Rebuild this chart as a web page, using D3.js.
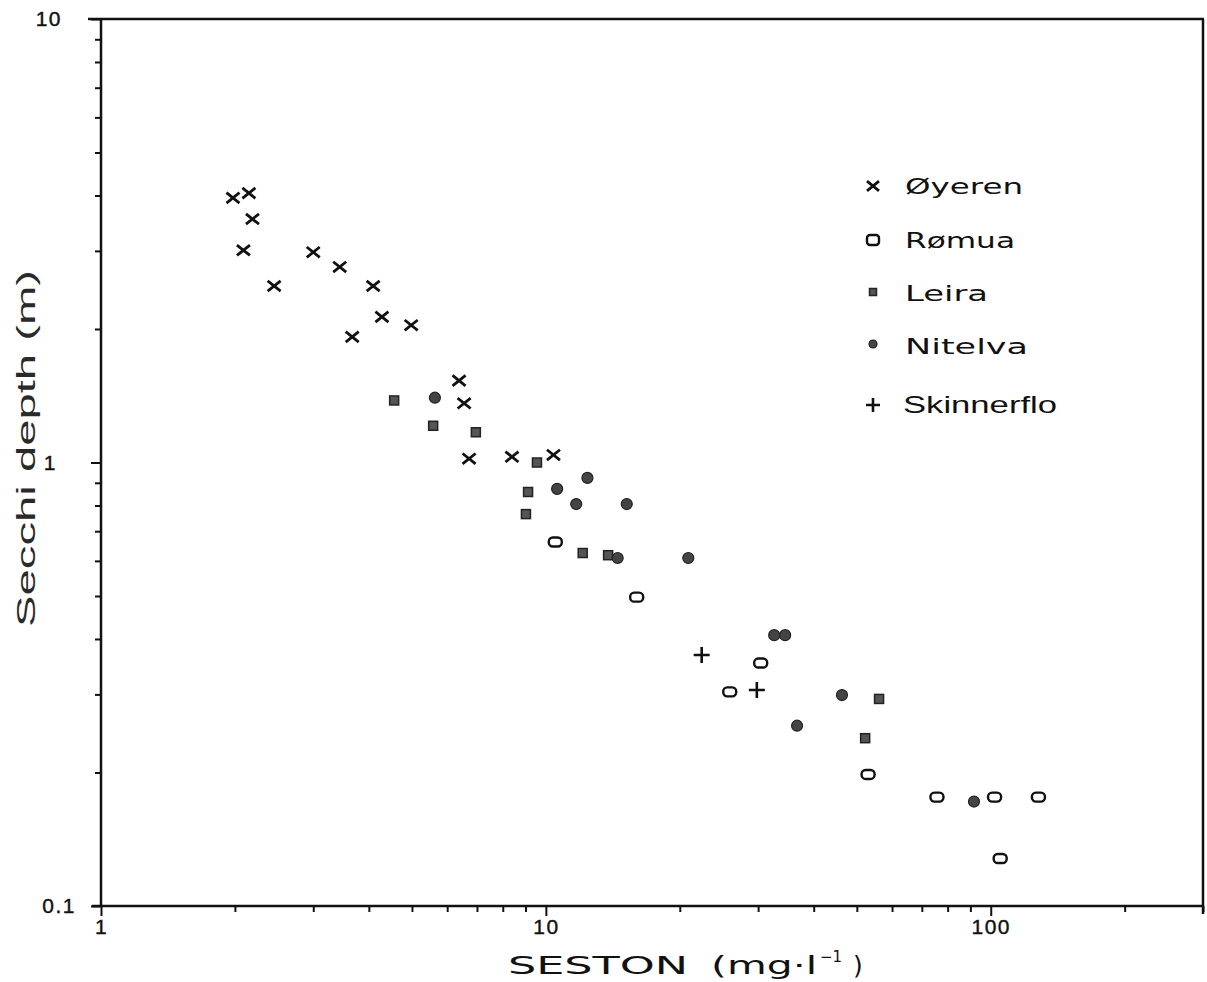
<!DOCTYPE html>
<html>
<head>
<meta charset="utf-8">
<script src="https://cdn.jsdelivr.net/npm/d3@7"></script>
<style>
  html, body { margin: 0; padding: 0; background: #fff; }
  svg { display: block; }
</style>
</head>
<body>
<svg id="chart" width="1207" height="982"></svg>
<script>
// ---------- DATA ----------
const seriesNames = ["Øyeren", "Rømua", "Leira", "Nitelva", "Skinnerflo"];

const oyerenSeston = [1.98, 2.15, 2.19, 2.09, 2.45, 3.00, 3.44, 4.09, 4.28, 4.98, 3.67, 6.38, 6.55, 6.72, 8.39, 10.4];
const oyerenSecchi = [3.95, 4.05, 3.54, 3.01, 2.50, 2.98, 2.76, 2.50, 2.13, 2.04, 1.92, 1.53, 1.36, 1.02, 1.03, 1.04];

const romuaSeston = [10.5, 16.0, 30.4, 25.9, 53.0, 75.7, 102, 128, 105];
const romuaSecchi = [0.662, 0.497, 0.353, 0.304, 0.198, 0.176, 0.176, 0.176, 0.128];

const leiraSeston = [4.56, 5.58, 6.96, 9.55, 9.12, 9.02, 12.1, 13.8, 56.1, 52.2];
const leiraSecchi = [1.38, 1.21, 1.17, 1.00, 0.858, 0.765, 0.625, 0.618, 0.293, 0.239];

const nitelvaSeston = [5.63, 12.4, 10.6, 11.7, 15.2, 14.5, 20.9, 32.6, 34.5, 46.3, 36.7, 91.7];
const nitelvaSecchi = [1.40, 0.923, 0.872, 0.806, 0.806, 0.609, 0.609, 0.408, 0.408, 0.299, 0.255, 0.172];

const skinnerfloSeston = [22.4, 29.8];
const skinnerfloSecchi = [0.368, 0.307];

const xTickValues = [1,2,3,4,5,6,7,8,9,10,20,30,40,50,60,70,80,90,100,200,300];
const xTickLabels = ["1", "10", "100"];
const yTickValues = [0.1,0.2,0.3,0.4,0.5,0.6,0.7,0.8,0.9,1,2,3,4,5,6,7,8,9,10];
const yTickLabels = ["0.1", "1", "10"];

const xTitle = "SESTON";
const yTitle = "Secchi depth (m)";

// ---------- CHART ----------
const svg = d3.select("#chart");
const x = d3.scaleLog().domain([1, 300]).range([101, 1203]);
const y = d3.scaleLog().domain([0.1, 10]).range([906, 19]);

const tickFont = "'Liberation Sans', Arial, sans-serif";
const isMajor = v => [1, 10, 100, 0.1].some(m => Math.abs(v - m) < 1e-9);

// X axis
const xAxis = d3.axisBottom(x)
  .tickValues(xTickValues)
  .tickSizeOuter(0)
  .tickSize(6)
  .tickPadding(8)
  .tickFormat(d => xTickLabels.includes(String(d)) ? String(d) : "");
const gx = svg.append("g").attr("transform", "translate(0,906)").call(xAxis);
gx.attr("font-size", null).attr("font-family", null);
gx.select(".domain").attr("stroke", "#111").attr("stroke-width", 2.5)
  .attr("d", "M92,0H1204");
gx.selectAll(".tick line").attr("stroke", "#111").attr("stroke-width", 2)
  .attr("y2", d => isMajor(d) ? 10 : 6);
gx.selectAll(".tick text")
  .style("font-family", tickFont).style("font-size", "21px").attr("fill", "#111")
  .attr("stroke", "#111").attr("stroke-width", 0.4)
  .style("letter-spacing", "1.5px").attr("dx", 0).attr("dy", "0.68em");

// Y axis
const yAxis = d3.axisLeft(y)
  .tickValues(yTickValues)
  .tickSizeOuter(0)
  .tickSize(6)
  .tickPadding(22)
  .tickFormat(d => {
    const s = d < 1 ? d3.format(".1f")(d) : String(d);
    return yTickLabels.includes(s) ? s : "";
  });
const gy = svg.append("g").attr("transform", "translate(101,0)").call(yAxis);
gy.attr("font-size", null).attr("font-family", null);
gy.select(".domain").attr("stroke", "#111").attr("stroke-width", 2.5)
  .attr("d", "M0,906V19");
gy.selectAll(".tick line").attr("stroke", "#111").attr("stroke-width", 2)
  .attr("x2", d => isMajor(d) ? -10 : -6);
gy.selectAll(".tick text")
  .style("font-family", tickFont).style("font-size", "21px").attr("fill", "#111")
  .attr("stroke", "#111").attr("stroke-width", 0.4)
  .style("letter-spacing", "1.5px")
  .attr("dx", d => d === 10 ? -11 : (d === 1 ? -16 : 3));

// Frame: top and right
svg.append("line").attr("x1", 88).attr("x2", 1204).attr("y1", y(10)).attr("y2", y(10))
  .attr("stroke", "#111").attr("stroke-width", 2.5);
svg.append("line").attr("x1", x(300)).attr("x2", x(300)).attr("y1", y(10)).attr("y2", y(0.1) + 8)
  .attr("stroke", "#111").attr("stroke-width", 2.5);

// Axis titles
const titleFont = "'DejaVu Sans', sans-serif";
svg.append("text")
  .attr("x", 508).attr("y", 974)
  .style("font-family", titleFont).style("font-size", "25px")
  .attr("fill", "#111")
  .attr("textLength", 180).attr("lengthAdjust", "spacingAndGlyphs")
  .text(xTitle);
svg.append("text")
  .attr("x", 711).attr("y", 974)
  .style("font-family", titleFont).style("font-size", "25px")
  .attr("fill", "#111")
  .attr("textLength", 106).attr("lengthAdjust", "spacingAndGlyphs")
  .text("(mg·l");
svg.append("text")
  .attr("x", 820).attr("y", 962)
  .style("font-family", titleFont).style("font-size", "15px")
  .attr("fill", "#111")
  .text("−1");
svg.append("text")
  .attr("x", 853).attr("y", 974)
  .style("font-family", titleFont).style("font-size", "25px")
  .attr("fill", "#111")
  .text(")");

svg.append("text")
  .attr("transform", "translate(35,627) rotate(-90)")
  .attr("x", 0).attr("y", 0)
  .style("font-family", "'Liberation Sans', Arial, sans-serif").style("font-size", "26px")
  .attr("fill", "#2a2a2a")
  .attr("textLength", 357).attr("lengthAdjust", "spacingAndGlyphs")
  .text(yTitle);

// ---------- MARKERS ----------
const pts = (xs, ys) => xs.map((v, i) => ({ x: v, y: ys[i] }));
const plot = svg.append("g");

function drawCross(g, cx, cy, s) {
  g.append("path")
    .attr("d", `M${cx - s},${cy - s * 0.8}L${cx + s},${cy + s * 0.8}M${cx - s},${cy + s * 0.8}L${cx + s},${cy - s * 0.8}`)
    .attr("stroke", "#111").attr("stroke-width", 2.8).attr("fill", "none");
}
function drawRound(g, cx, cy) {
  g.append("rect").attr("x", cx - 6.5).attr("y", cy - 4.5).attr("width", 13).attr("height", 9)
    .attr("rx", 4).attr("ry", 4)
    .attr("fill", "#fff").attr("stroke", "#111").attr("stroke-width", 2.4);
}
function drawSquare(g, cx, cy, s) {
  g.append("rect").attr("x", cx - s / 2).attr("y", cy - s / 2).attr("width", s).attr("height", s)
    .attr("fill", "#555").attr("stroke", "#222").attr("stroke-width", 1.5);
}
function drawDot(g, cx, cy, r) {
  g.append("circle").attr("cx", cx).attr("cy", cy).attr("r", r)
    .attr("fill", "#444").attr("stroke", "#222").attr("stroke-width", 1.2);
}
function drawPlus(g, cx, cy, s) {
  g.append("path")
    .attr("d", `M${cx - s},${cy}H${cx + s}M${cx},${cy - s}V${cy + s}`)
    .attr("stroke", "#111").attr("stroke-width", 2.6).attr("fill", "none");
}

pts(oyerenSeston, oyerenSecchi).forEach(p => drawCross(plot, x(p.x), y(p.y), 6.5));
pts(romuaSeston, romuaSecchi).forEach(p => drawRound(plot, x(p.x), y(p.y)));
pts(leiraSeston, leiraSecchi).forEach(p => drawSquare(plot, x(p.x), y(p.y), 9));
pts(nitelvaSeston, nitelvaSecchi).forEach(p => drawDot(plot, x(p.x), y(p.y), 5.5));
pts(skinnerfloSeston, skinnerfloSecchi).forEach(p => drawPlus(plot, x(p.x), y(p.y), 8));

// ---------- LEGEND ----------
const legend = svg.append("g");
const legRowY = [186, 240, 293, 346, 405];
const legWidths = [118, 110, 83, 123, 154];
seriesNames.forEach((name, i) => {
  const cy = legRowY[i];
  const sx = 873;
  if (i === 0) drawCross(legend, sx, cy, 6);
  if (i === 1) legend.append("rect").attr("x", sx - 6).attr("y", cy - 5).attr("width", 12).attr("height", 10)
    .attr("rx", 3).attr("fill", "#fff").attr("stroke", "#111").attr("stroke-width", 2.4);
  if (i === 2) drawSquare(legend, sx, cy - 1, 7);
  if (i === 3) drawDot(legend, sx, cy - 2, 4);
  if (i === 4) drawPlus(legend, sx, cy, 7);
  legend.append("text")
    .attr("x", i === 4 ? 903 : 905).attr("y", cy + 8)
    .style("font-family", i === 4 ? "'Liberation Sans', Arial, sans-serif" : "'DejaVu Sans', sans-serif")
    .style("font-size", i === 4 ? "24px" : "21px")
    .attr("fill", "#111")
    .attr("textLength", legWidths[i]).attr("lengthAdjust", "spacingAndGlyphs")
    .text(name);
});
</script>
</body>
</html>
